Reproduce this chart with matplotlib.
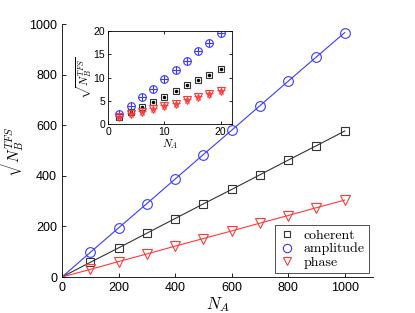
import matplotlib
matplotlib.use("Agg")
import matplotlib.pyplot as plt

plt.rcParams['font.family'] = ['Liberation Sans', 'DejaVu Sans']
plt.rcParams['mathtext.fontset'] = 'cm'

# main data
NA = [100, 200, 300, 400, 500, 600, 700, 800, 900, 1000]
coherent = [58, 115, 173, 231, 289, 346, 404, 462, 519, 577]
amplitude = [97, 194, 290, 387, 484, 580, 677, 774, 870, 966]
phase = [30, 61, 91, 122, 152, 182, 213, 243, 274, 304]

# inset data
NA_small = [2, 4, 6, 8, 10, 12, 14, 16, 18, 20]
coherent_small = [1.4, 2.5, 3.7, 4.8, 5.9, 7.1, 8.3, 9.4, 10.6, 11.8]
amplitude_small = [2.1, 3.9, 5.7, 7.6, 9.6, 11.6, 13.6, 15.6, 17.5, 19.5]
phase_small = [1.6, 2.1, 2.6, 3.2, 3.8, 4.4, 5.1, 5.7, 6.4, 7.1]

c_col = '#333333'
a_col = '#3a3aff'
p_col = '#ff3a3a'

fig = plt.figure(figsize=(4.15, 3.13), dpi=100)
ax = fig.add_axes([62/415, 36/313, 311/415, 253/313])

ax.plot([0] + NA, [0] + coherent, '-', color=c_col, lw=0.8)
ax.plot([0] + NA, [0] + amplitude, '-', color=a_col, lw=0.8)
ax.plot([0] + NA, [0] + phase, '-', color=p_col, lw=0.8)
ax.plot(NA, coherent, 's', mfc='none', mec=c_col, ms=6, mew=0.8)
ax.plot(NA, amplitude, 'o', mfc='none', mec=a_col, ms=7, mew=0.8)
ax.plot(NA, phase, 'v', mfc='none', mec=p_col, ms=7, mew=0.8)

ax.set_xlim(0, 1100)
ax.set_ylim(0, 1000)
ax.set_xticks([0, 200, 400, 600, 800, 1000])
ax.set_yticks([0, 200, 400, 600, 800, 1000])
ax.tick_params(direction='in', length=3, labelsize=9, width=0.6)
for s in ['top', 'right']:
    ax.spines[s].set_visible(False)
for s in ['left', 'bottom']:
    ax.spines[s].set_linewidth(0.6)
ax.set_xlabel(r'$N_A$', fontsize=12, labelpad=1)
ax.set_ylabel(r'$\sqrt{N_B^{TFS}}$', fontsize=11, labelpad=2)

from matplotlib.lines import Line2D
handles = [Line2D([], [], ls='none', marker='s', mfc='none', mec=c_col, ms=5, mew=0.8),
           Line2D([], [], ls='none', marker='o', mfc='none', mec=a_col, ms=6, mew=0.8),
           Line2D([], [], ls='none', marker='v', mfc='none', mec=p_col, ms=6, mew=0.8)]
leg = ax.legend(handles, ['coherent', 'amplitude', 'phase'], loc='lower right',
                bbox_to_anchor=(369/415, 40/313), bbox_transform=fig.transFigure,
                prop={'family': 'cmr10', 'size': 10}, frameon=True, fancybox=False,
                edgecolor='black', handlelength=1.2, handletextpad=0.6,
                borderpad=0.3, labelspacing=0.05, borderaxespad=0)
leg.get_frame().set_linewidth(0.6)

# inset
ai = fig.add_axes([108/415, 189/313, 124/415, 93/313])
ai.plot(NA_small, coherent_small, 's', mfc='none', mec=c_col, ms=5, mew=0.8)
ai.plot(NA_small, coherent_small, '.', color='black', ms=3)
ai.plot(NA_small, amplitude_small, 'o', mfc='none', mec=a_col, ms=5.5, mew=0.8)
ai.plot(NA_small, amplitude_small, '+', color=a_col, ms=5.5, mew=0.8)
ai.plot(NA_small, phase_small, 'v', mfc='none', mec=p_col, ms=5.5, mew=0.8)
ai.plot(NA_small, phase_small, '*', color=p_col, ms=5.5, mew=0.5)
ai.set_xlim(0, 22)
ai.set_ylim(0, 20)
ai.set_xticks([0, 10, 20])
ai.set_yticks([0, 5, 10, 15, 20])
ai.tick_params(direction='in', length=2.5, labelsize=7.5, width=0.6, pad=2,
               top=True, right=True)
for s in ai.spines.values():
    s.set_linewidth(0.6)
ai.set_xlabel(r'$N_A$', fontsize=8, labelpad=0)
ai.set_ylabel(r'$\sqrt{N_B^{TFS}}$', fontsize=8, labelpad=0)

fig.savefig('out.png', dpi=100)
